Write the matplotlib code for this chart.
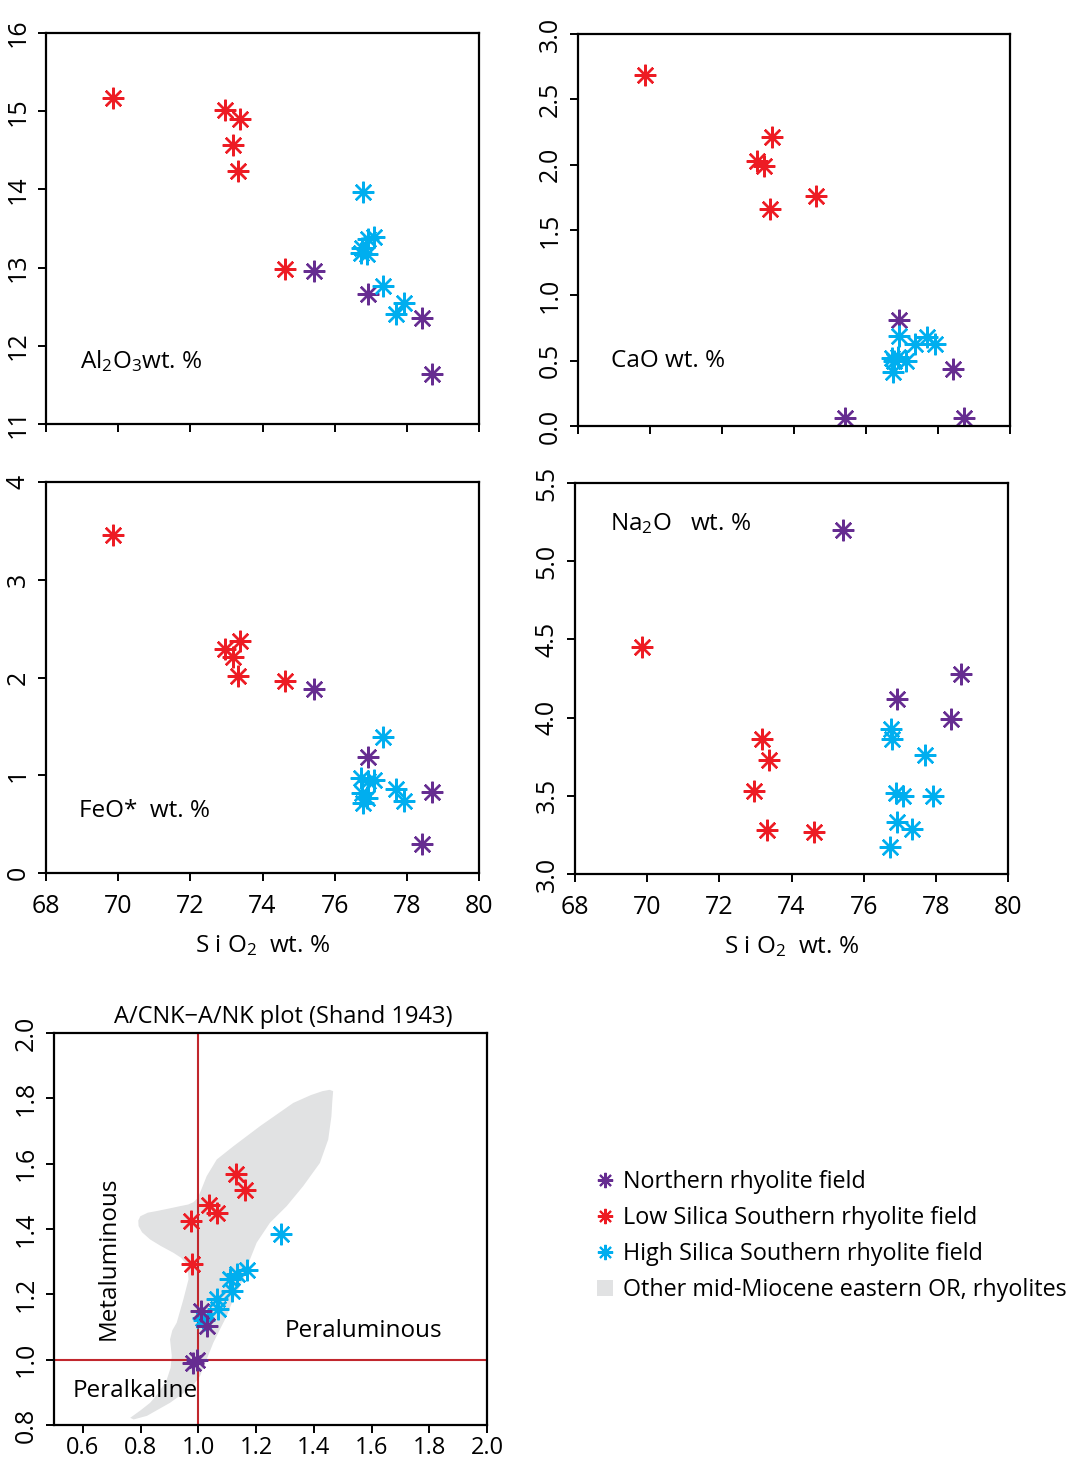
import numpy as np
import matplotlib
matplotlib.use("Agg")
import matplotlib.pyplot as plt
from matplotlib.lines import Line2D
from matplotlib.patches import Patch, Polygon

plt.rcParams['font.family'] = ['Open Sans', 'DejaVu Sans']
plt.rcParams['mathtext.fontset'] = 'custom'
plt.rcParams['mathtext.rm'] = 'Open Sans'
plt.rcParams['mathtext.default'] = 'regular'

# ---- data ----
# Northern rhyolite field (purple)
north_sio2 = [75.43, 76.91, 78.43, 78.71]
north_al2o3 = [12.96, 12.66, 12.36, 11.64]
north_cao = [0.06, 0.81, 0.44, 0.06]
north_feo = [1.88, 1.19, 0.30, 0.83]
north_na2o = [5.20, 4.12, 3.99, 4.28]
north_acnk = [1.009, 1.029, 0.983, 0.994]
north_ank = [1.149, 1.103, 0.991, 0.999]

# Low silica southern rhyolite field (red)
low_sio2 = [69.85, 72.97, 73.17, 73.32, 73.38, 74.61]
low_al2o3 = [15.17, 15.01, 14.57, 14.24, 14.90, 12.98]
low_cao = [2.69, 2.03, 1.99, 1.66, 2.21, 1.76]
low_feo = [3.46, 2.29, 2.21, 2.02, 2.37, 1.96]
low_na2o = [4.45, 3.53, 3.86, 3.28, 3.73, 3.27]
low_acnk = [0.973, 0.979, 1.038, 1.066, 1.130, 1.161]
low_ank = [1.426, 1.292, 1.473, 1.450, 1.569, 1.518]

# High silica southern rhyolite field (cyan)
high_sio2 = [76.73, 76.76, 76.78, 76.89, 76.92, 77.10, 77.35, 77.69, 77.93]
high_al2o3 = [13.19, 13.25, 13.97, 13.17, 13.36, 13.39, 12.77, 12.41, 12.55]
high_cao = [0.52, 0.41, 0.50, 0.53, 0.69, 0.50, 0.63, 0.68, 0.63]
high_feo = [0.97, 0.82, 0.72, 0.77, 0.94, 0.95, 1.39, 0.86, 0.74]
high_na2o = [3.17, 3.93, 3.86, 3.52, 3.33, 3.50, 3.29, 3.76, 3.50]
high_acnk = [1.286, 1.169, 1.133, 1.110, 1.118, 1.063, 1.069, 1.020, 1.017]
high_ank = [1.385, 1.273, 1.261, 1.248, 1.210, 1.185, 1.156, 1.120, 1.128]

# outline of other mid-Miocene eastern Oregon rhyolites (A/CNK, A/NK)
field_x = [0.764, 0.800, 0.833, 0.864, 0.891, 0.904, 0.908, 0.902, 0.910, 0.925,
           0.948, 0.966, 0.962, 0.940, 0.914, 0.870, 0.833, 0.805, 0.793, 0.792,
           0.799, 0.825, 0.856, 0.900, 0.937, 0.965, 0.983, 0.998, 1.010, 1.029,
           1.064, 1.121, 1.214, 1.329, 1.390, 1.430, 1.455, 1.467, 1.464, 1.461,
           1.450, 1.421, 1.363, 1.306, 1.248, 1.202, 1.179, 1.167, 1.144, 1.121,
           1.098, 1.075, 1.052, 1.029, 1.006, 0.985, 0.960, 0.902, 0.822, 0.776]
field_y = [0.822, 0.845, 0.868, 0.900, 0.940, 0.975, 1.011, 1.062, 1.090, 1.113,
           1.184, 1.246, 1.290, 1.312, 1.327, 1.348, 1.368, 1.390, 1.409, 1.426,
           1.439, 1.450, 1.455, 1.463, 1.470, 1.475, 1.482, 1.495, 1.520, 1.562,
           1.613, 1.653, 1.715, 1.786, 1.810, 1.822, 1.826, 1.822, 1.790, 1.745,
           1.674, 1.602, 1.531, 1.470, 1.419, 1.358, 1.307, 1.266, 1.225, 1.184,
           1.133, 1.093, 1.052, 1.001, 0.950, 0.925, 0.905, 0.868, 0.828, 0.817]

PURPLE = '#662d91'
RED = '#ed1c24'
CYAN = '#00aeef'
GREY = '#e1e2e3'
LINE_RED = '#c1272d'
STAR = (8, 2, 0)
TICK_FS = 18
FS = 17.5

W, H = 1071, 1464
fig = plt.figure(figsize=(W / 100, H / 100), dpi=100)


def add_axes(left, top, right, bottom):
    return fig.add_axes([left / W, 1 - bottom / H, (right - left) / W, (bottom - top) / H])


def style(ax, xpad=9):
    for sp in ax.spines.values():
        sp.set_linewidth(1.6)
    ax.tick_params(direction='out', length=6, width=1.4, labelsize=TICK_FS)
    ax.tick_params(axis='x', pad=xpad)
    ax.tick_params(axis='y', pad=5)
    for lab in ax.get_yticklabels():
        lab.set_rotation(90)
        lab.set_va('center')


def stars(ax, x, y, color, ms=15.5):
    ax.plot(x, y, linestyle='none', marker=STAR, markersize=ms,
            markeredgewidth=1.7, color=color)


def oxide_panel(box, north, low, high, ylim, yticks, ylabels, label, label_xy, show_x):
    ax = add_axes(*box)
    stars(ax, low_sio2, low, RED)
    stars(ax, north_sio2, north, PURPLE)
    stars(ax, high_sio2, high, CYAN)
    ax.set_xlim(68, 80)
    ax.set_ylim(*ylim)
    ax.set_xticks(np.arange(68, 81, 2))
    ax.set_yticks(yticks)
    ax.set_yticklabels(ylabels)
    if show_x:
        ax.set_xlabel('S i O$_2$  wt. %', fontsize=FS, labelpad=10)
    else:
        ax.set_xticklabels([])
    ax.text(label_xy[0], label_xy[1], label, fontsize=FS, va='center', ha='left')
    style(ax)
    return ax


oxide_panel((46, 33, 479, 424), north_al2o3, low_al2o3, high_al2o3,
            (11, 16), np.arange(11, 17), [str(v) for v in range(11, 17)],
            'Al$_2$O$_3$wt. %', (68.95, 11.8), False)
oxide_panel((578, 34, 1010, 426), north_cao, low_cao, high_cao,
            (0, 3), np.arange(0, 3.01, 0.5), ['%.1f' % v for v in np.arange(0, 3.01, 0.5)],
            'CaO wt. %', (68.93, 0.5), False)
oxide_panel((46, 482, 479, 873), north_feo, low_feo, high_feo,
            (0, 4), np.arange(0, 5), [str(v) for v in range(0, 5)],
            'FeO*  wt. %', (68.92, 0.63), True)
oxide_panel((575, 483, 1008, 874), north_na2o, low_na2o, high_na2o,
            (3, 5.5), np.arange(3, 5.51, 0.5), ['%.1f' % v for v in np.arange(3, 5.51, 0.5)],
            'Na$_2$O   wt. %', (68.97, 5.24), True)

# A/CNK - A/NK plot
ax = add_axes(54, 1033, 487, 1425)
ax.add_patch(Polygon(np.column_stack([field_x, field_y]), closed=True,
                     facecolor=GREY, edgecolor='none', zorder=1))
ax.axvline(1.0, color=LINE_RED, lw=1.5, zorder=2)
ax.axhline(1.0, color=LINE_RED, lw=1.5, zorder=2)
stars(ax, low_acnk, low_ank, RED)
stars(ax, high_acnk, high_ank, CYAN)
stars(ax, north_acnk, north_ank, PURPLE)
ax.set_xlim(0.5, 2.0)
ax.set_ylim(0.8, 2.0)
ax.set_xticks(np.arange(0.6, 2.01, 0.2))
ax.set_xticklabels(['%.1f' % v for v in np.arange(0.6, 2.01, 0.2)])
ax.set_yticks(np.arange(0.8, 2.01, 0.2))
ax.set_yticklabels(['%.1f' % v for v in np.arange(0.8, 2.01, 0.2)])
ax.set_title('A/CNK\u2212A/NK plot (Shand 1943)', fontsize=17, pad=7, x=0.53)
ax.text(0.69, 1.31, 'Metaluminous', rotation=90, fontsize=FS, ha='center', va='center')
ax.text(1.30, 1.088, 'Peraluminous', fontsize=FS, ha='left', va='center')
ax.text(0.566, 0.904, 'Peralkaline', fontsize=FS, ha='left', va='center')
style(ax, xpad=2)
ax.tick_params(axis='x', labelsize=17)

handles = [
    Line2D([], [], linestyle='none', marker=STAR, markersize=11, markeredgewidth=1.5, color=PURPLE),
    Line2D([], [], linestyle='none', marker=STAR, markersize=11, markeredgewidth=1.5, color=RED),
    Line2D([], [], linestyle='none', marker=STAR, markersize=11, markeredgewidth=1.5, color=CYAN),
    Patch(facecolor=GREY, edgecolor='none'),
]
labels = ['Northern rhyolite field', 'Low Silica Southern rhyolite field',
          'High Silica Southern rhyolite field', 'Other mid-Miocene eastern OR, rhyolites']
fig.legend(handles, labels, loc='upper left', bbox_to_anchor=(597 / W, 1 - 1170 / H),
           frameon=False, fontsize=16.8, handlelength=0.7, handletextpad=0.4,
           labelspacing=0.52, borderpad=0, borderaxespad=0)

fig.savefig('out.png', dpi=100)
